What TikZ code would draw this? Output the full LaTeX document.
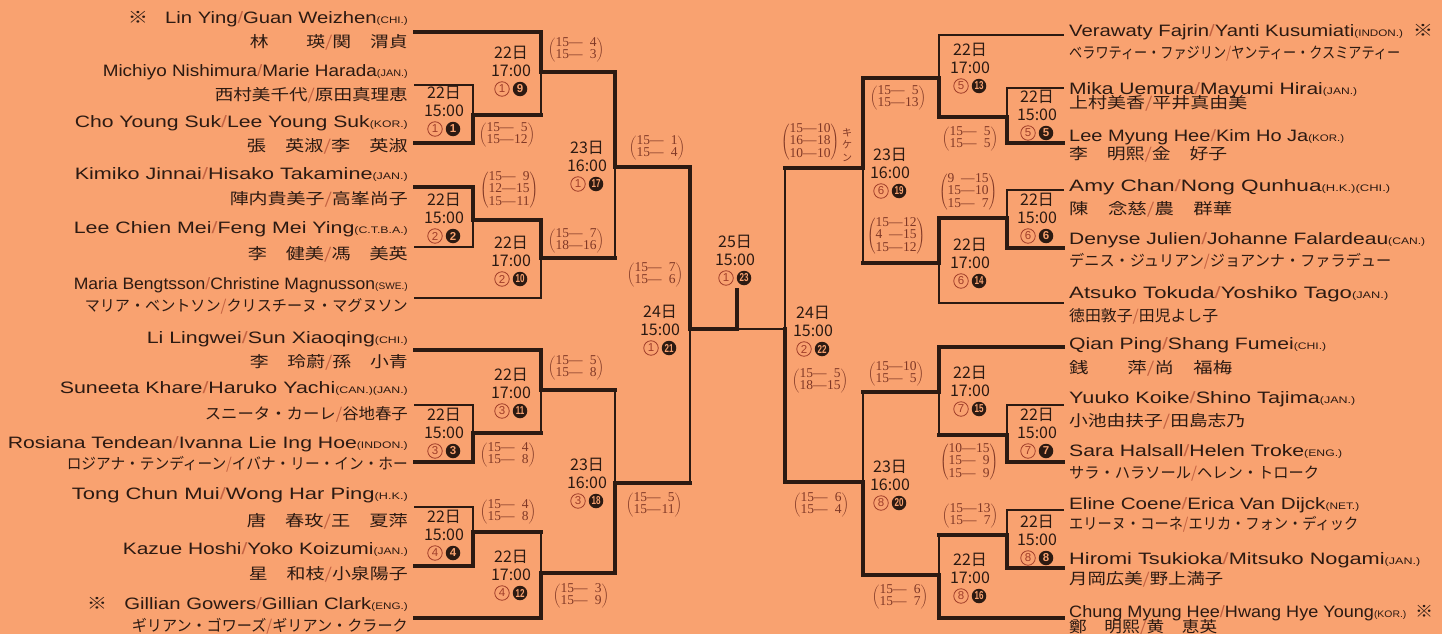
\documentclass[tikz,border=0pt]{standalone}
\usepackage{fontspec}
\usepackage{graphicx}
\usepackage{array}
\setmainfont{Liberation Sans}
\newfontfamily\jpfont{Noto Sans CJK JP}
\newfontfamily\scorefont{Liberation Serif}
\definecolor{paper}{RGB}{249,162,112}
\definecolor{ink}{RGB}{44,26,18}
\definecolor{scorec}{RGB}{128,56,38}
\definecolor{circc}{RGB}{160,62,42}
\definecolor{slashc}{RGB}{196,98,66}
\newcommand\slsh{{\color{slashc}/}}
\newcommand\cty[1]{{\fontsize{9.5}{10}\selectfont(#1)}}
\newcommand\kome{{\jpfont ※}}
\newcommand\fitw[2]{\resizebox{#1pt}{\height}{#2}}
\newcommand\scr[1]{$\left(\begin{tabular}{@{}l@{—}>{\raggedleft\arraybackslash}p{14pt}@{}}#1\end{tabular}\right)$}
\newcommand\cnum[1]{\ifnum#1>9 \scalebox{.7}[1]{#1}\else#1\fi}

\begin{document}
\begin{tikzpicture}[x=1pt,y=1pt,yscale=-1,
  thk/.style={draw=ink,line width=3.3pt,line cap=rect},
  thn/.style={draw=ink,line width=1.3pt,line cap=rect},
  lnm/.style={inner sep=0pt,text=ink,font=\fontsize{16.5}{18}\selectfont},
  jnm/.style={inner sep=0pt,text=ink,font=\jpfont\fontsize{15.5}{17}\selectfont},
  dtx/.style={inner sep=0pt,text=ink,font=\jpfont\fontsize{16}{16}\selectfont},
  onum/.style={circle,draw=circc,line width=0.8pt,inner sep=0pt,minimum size=14.5pt,text=circc,font=\fontsize{11.5}{11.5}\selectfont},
  bnum/.style={circle,fill=ink,inner sep=0pt,minimum size=14.5pt,text=paper,font=\bfseries\fontsize{11.5}{11.5}\selectfont},
  score/.style={inner sep=0pt,text=scorec,font={\scorefont\fontsize{13.5}{14.5}\selectfont\renewcommand\arraystretch{0.76}}}]
\useasboundingbox (0,0) rectangle (1442,634);
\fill[paper] (0,0) rectangle (1442,634);

%entry points, left
\foreach \ida/\yy in {P1/32,P2/85,P3/143,P4/187,P5/247,P6/298,P7/350,P8/405,P9/462,P10/507,P11/566,P12/618}
  \coordinate (\ida) at (415,\yy);
%entry points, right
\foreach \ida/\yy in {Q1/35,Q2/88,Q3/143,Q4/190,Q5/248,Q6/303,Q7/347,Q8/405,Q9/462,Q10/510,Q11/568,Q12/618}
  \coordinate (\ida) at (1063,\yy);
%match points
\foreach \ida/\xx/\yy in {m1/473/115,m2/473/220,m3/473/433,m4/473/532,m9/541/72,m10/541/258,m11/541/390,m12/541/573,
  m17/615/167,m18/615/483,m21/690/329,
  m5/1007/117,m6/1007/218,m7/1007/435,m8/1007/535,m13/939/78,m14/939/263,m15/939/392,m16/939/575,
  m19/863/168,m20/863/482,m22/785/329}
  \coordinate (\ida) at (\xx,\yy);
\coordinate (fin) at (737,329);
\coordinate (finl) at (737,290);

%bracket lines
\foreach \aa/\mm/\hh/\vv in {P2/m1/thn/thn,P3/m1/thk/thk,P4/m2/thk/thk,P5/m2/thn/thn,P8/m3/thn/thn,P9/m3/thk/thk,
  P10/m4/thn/thn,P11/m4/thk/thk,P1/m9/thk/thk,m1/m9/thk/thn,m2/m10/thk/thk,P6/m10/thn/thn,
  P7/m11/thk/thk,m3/m11/thk/thn,m4/m12/thk/thn,P12/m12/thk/thk,m9/m17/thk/thk,m10/m17/thk/thn,
  m11/m18/thk/thn,m12/m18/thk/thk,m17/m21/thk/thk,m18/m21/thk/thn,
  Q2/m5/thn/thn,Q3/m5/thk/thk,Q4/m6/thn/thn,Q5/m6/thk/thk,Q8/m7/thn/thn,Q9/m7/thk/thk,
  Q10/m8/thn/thn,Q11/m8/thk/thk,Q1/m13/thn/thn,m5/m13/thk/thk,m6/m14/thk/thk,Q6/m14/thn/thn,
  Q7/m15/thk/thk,m7/m15/thk/thn,m8/m16/thk/thn,Q12/m16/thk/thk,m13/m19/thk/thk,m14/m19/thk/thn,
  m15/m20/thk/thn,m16/m20/thk/thk,m19/m22/thk/thn,m20/m22/thk/thk}
{
  \draw[\hh] (\aa) -- (\aa -| \mm);
  \draw[\vv] (\aa -| \mm) -- (\mm);
}
%final
\draw[thk] (m21) -- (fin) -- (finl);
\draw[thn] (m22) -- (fin);

%names, left
\foreach \ida/\yy/\ww/\tx in {
  L1/24/280/{\kome\hspace{14pt}Lin Ying\slsh Guan Weizhen\cty{CHI.}},
  L2/76/305/{Michiyo Nishimura\slsh Marie Harada\cty{JAN.}},
  L3/127/333/{Cho Young Suk\slsh Lee Young Suk\cty{KOR.}},
  L4/179/333/{Kimiko Jinnai\slsh Hisako Takamine\cty{JAN.}},
  L5/233/334/{Lee Chien Mei\slsh Feng Mei Ying\cty{C.T.B.A.}},
  L6/289/334/{Maria Bengtsson\slsh Christine Magnusson\cty{SWE.}},
  L7/343/261/{Li Lingwei\slsh Sun Xiaoqing\cty{CHI.}},
  L8/393/348/{Suneeta Khare\slsh Haruko Yachi\cty{CAN.}\cty{JAN.}},
  L9/448/400/{Rosiana Tendean\slsh Ivanna Lie Ing Hoe\cty{INDON.}},
  L10/499/336/{Tong Chun Mui\slsh Wong Har Ping\cty{H.K.}},
  L11/554/285/{Kazue Hoshi\slsh Yoko Koizumi\cty{JAN.}},
  L12/609/321/{\kome\hspace{14pt}Gillian Gowers\slsh Gillian Clark\cty{ENG.}}}
  \node[lnm,anchor=base east] (\ida) at (408,\yy) {\fitw{\ww}{\tx}};
\foreach \ida/\yy/\ww/\tx in {
  J1/48/158/{林　　瑛\slsh 関　渭貞},
  J2/100/193/{西村美千代\slsh 原田真理恵},
  J3/151/161/{張　英淑\slsh 李　英淑},
  J4/204/178/{陣内貴美子\slsh 高峯尚子},
  J5/259/160/{李　健美\slsh 馮　美英},
  J6/311/323/{マリア・ベントソン\slsh クリスチーヌ・マグヌソン},
  J7/367/158/{李　玲蔚\slsh 孫　小青},
  J8/419/203/{スニータ・カーレ\slsh 谷地春子},
  J9/469/341/{ロジアナ・テンディーン\slsh イバナ・リー・イン・ホー},
  J10/526/161/{唐　春玫\slsh 王　夏萍},
  J11/579/159/{星　和枝\slsh 小泉陽子},
  J12/631/276/{ギリアン・ゴワーズ\slsh ギリアン・クラーク}}
  \node[jnm,anchor=base east] (\ida) at (408,\yy) {\fitw{\ww}{\tx}};

%names, right
\foreach \ida/\yy/\ww/\tx in {
  R1/37/364/{Verawaty Fajrin\slsh Yanti Kusumiati\cty{INDON.}\hspace{8pt}\kome},
  R2/94/288/{Mika Uemura\slsh Mayumi Hirai\cty{JAN.}},
  R3/141/275/{Lee Myung Hee\slsh Kim Ho Ja\cty{KOR.}},
  R4/191/321/{Amy Chan\slsh Nong Qunhua\cty{H.K.}\cty{CHI.}},
  R5/244/356/{Denyse Julien\slsh Johanne Falardeau\cty{CAN.}},
  R6/298/319/{Atsuko Tokuda\slsh Yoshiko Tago\cty{JAN.}},
  R7/349/257/{Qian Ping\slsh Shang Fumei\cty{CHI.}},
  R8/403/286/{Yuuko Koike\slsh Shino Tajima\cty{JAN.}},
  R9/456/273/{Sara Halsall\slsh Helen Troke\cty{ENG.}},
  R10/509/290/{Eline Coene\slsh Erica Van Dijck\cty{NET.}},
  R11/564/351/{Hiromi Tsukioka\slsh Mitsuko Nogami\cty{JAN.}},
  R12/617/364/{Chung Myung Hee\slsh Hwang Hye Young\cty{KOR.}\hspace{8pt}\kome}}
  \node[lnm,anchor=base west] (\ida) at (1069,\yy) {\fitw{\ww}{\tx}};
\foreach \ida/\yy/\ww/\tx in {
  K1/59/331/{ベラワティー・ファジリン\slsh ヤンティー・クスミアティー},
  K2/109/178/{上村美香\slsh 平井真由美},
  K3/159/158/{李　明熙\slsh 金　好子},
  K4/214/163/{陳　念慈\slsh 農　群華},
  K5/266/322/{デニス・ジュリアン\slsh ジョアンナ・ファラデュー},
  K6/321/149/{徳田敦子\slsh 田児よし子},
  K7/373/163/{銭　　萍\slsh 尚　福梅},
  K8/426/176/{小池由扶子\slsh 田島志乃},
  K9/478/250/{サラ・ハラソール\slsh ヘレン・トローク},
  K10/529/289/{エリーヌ・コーネ\slsh エリカ・フォン・ディック},
  K11/584/154/{月岡広美\slsh 野上満子},
  K12/632/148/{鄭　明熙\slsh 黄　恵英}}
  \node[jnm,anchor=base west] (\ida) at (1069,\yy) {\fitw{\ww}{\tx}};

%match labels: day, time, order, match number
\foreach \ida/\xx/\yy/\dd/\hh/\oa/\ob in {
  t1/444/93/22/15/1/1, t2/444/200/22/15/2/2, t3/444/415/22/15/3/3, t4/444/517/22/15/4/4,
  t9/511/53/22/17/1/9, t10/511/243/22/17/2/10, t11/511/375/22/17/3/11, t12/511/557/22/17/4/12,
  t17/587/148/23/16/1/17, t18/587/465/23/16/3/18, t21/660/312/24/15/1/21, t23/735/242/25/15/1/23,
  t5/1037/97/22/15/5/5, t6/1037/200/22/15/6/6, t7/1037/415/22/15/7/7, t8/1037/522/22/15/8/8,
  t13/970/50/22/17/5/13, t14/970/245/22/17/6/14, t15/970/373/22/17/7/15, t16/970/560/22/17/8/16,
  t19/890/155/23/16/6/19, t20/890/467/23/16/8/20, t22/813/313/24/15/2/22}
{
  \node[dtx] (\ida-d) at (\xx,\yy) {\dd 日};
  \node[dtx] (\ida-h) at (\xx,\yy+17.5) {\hh:00};
  \node[onum] (\ida-o) at (\xx-9,\yy+36) {\oa};
  \node[bnum] (\ida-b) at (\xx+9,\yy+36) {\cnum{\ob}};
}

%scores
\foreach \ida/\xx/\yy/\tx in {
  s9/576/50/{15&4\\15&3}, s1/507/135/{15&5\\15&12}, s17/657/148/{15&1\\15&4},
  s2/509/190/{15&9\\12&15\\15&11}, s10/576/241/{15&7\\18&16}, s21/655/275/{15&7\\15&6},
  s11/576/368/{15&5\\15&8}, s3/508/455/{15&4\\15&8}, s18/654/505/{15&5\\15&11},
  s4/508/512/{15&4\\15&8}, s12/581/596/{15&3\\15&9},
  s19/810/142/{15&10\\16&18\\10&10}, s13/898/98/{15&5\\15&13}, s5/970/139/{15&5\\15&5},
  s6/968/192/{9&15\\15&10\\15&7}, s14/896/236/{15&12\\4&15\\15&12}, s15/896/374/{15&10\\15&5},
  s22/820/381/{15&5\\18&15}, s7/969/462/{10&15\\15&9\\15&9}, s20/821/505/{15&6\\15&4},
  s8/970/516/{15&13\\15&7}, s16/900/597/{15&6\\15&7}}
  \node[score] (\ida) at (\xx,\yy) {\scr{\tx}};
\node[inner sep=0pt,text=scorec,align=center,font=\jpfont\fontsize{10}{12.5}\selectfont] (kiken) at (847,145) {キ\\ケ\\ン};

\end{tikzpicture}
\end{document}
